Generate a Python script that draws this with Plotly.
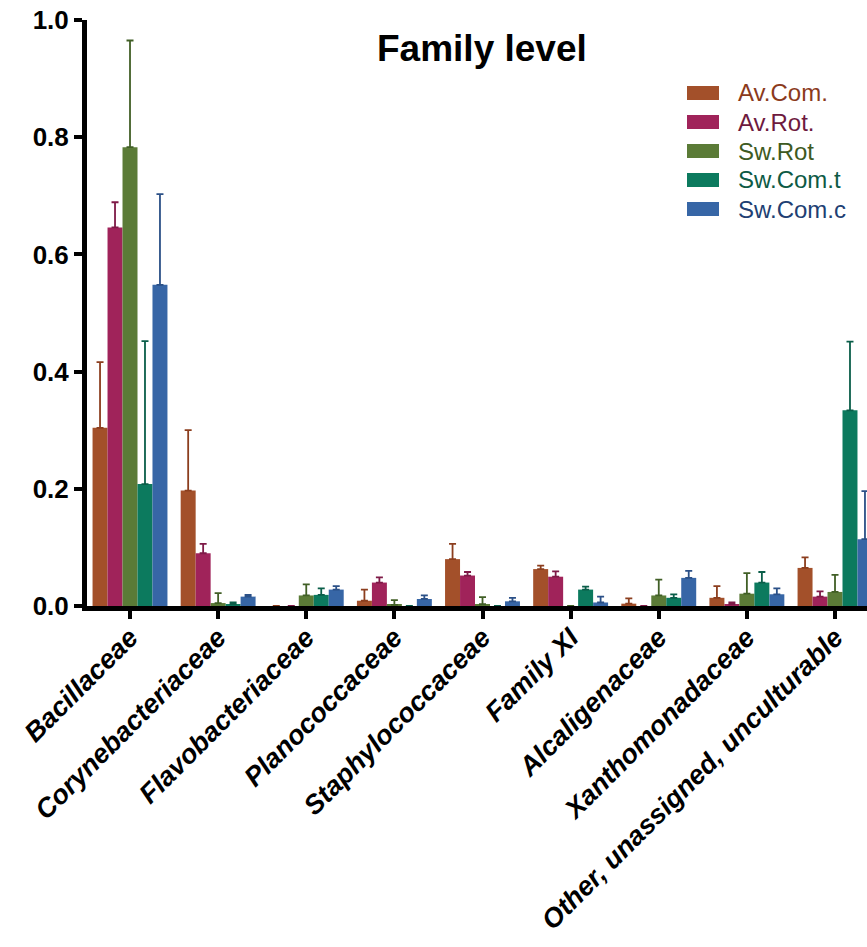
import plotly.graph_objects as go

families = ["Bacillaceae", "Corynebacteriaceae", "Flavobacteriaceae", "Planococcaceae",
            "Staphylococcaceae", "Family XI", "Alcaligenaceae", "Xanthomonadaceae",
            "Other, unassigned, unculturable"]

av_com = [0.304, 0.197, 0.0, 0.009, 0.080, 0.063, 0.004, 0.014, 0.065]
av_com_sd = [0.112, 0.103, 0.0, 0.019, 0.026, 0.006, 0.009, 0.020, 0.018]

av_rot = [0.646, 0.090, 0.0, 0.040, 0.052, 0.050, 0.0, 0.003, 0.016]
av_rot_sd = [0.043, 0.016, 0.0, 0.009, 0.006, 0.009, 0.0, 0.003, 0.009]

sw_rot = [0.783, 0.005, 0.018, 0.002, 0.003, 0.0, 0.018, 0.021, 0.024]
sw_rot_sd = [0.182, 0.017, 0.019, 0.008, 0.012, 0.0, 0.027, 0.035, 0.029]

sw_com_t = [0.208, 0.003, 0.019, 0.0, 0.0, 0.028, 0.014, 0.040, 0.334]
sw_com_t_sd = [0.244, 0.003, 0.011, 0.0, 0.0, 0.005, 0.006, 0.018, 0.117]

sw_com_c = [0.548, 0.016, 0.028, 0.012, 0.008, 0.006, 0.048, 0.020, 0.114]
sw_com_c_sd = [0.155, 0.003, 0.006, 0.006, 0.006, 0.010, 0.012, 0.010, 0.082]

series_names = ["Av.Com.", "Av.Rot.", "Sw.Rot", "Sw.Com.t", "Sw.Com.c"]
series_means = [av_com, av_rot, sw_rot, sw_com_t, sw_com_c]
series_sds = [av_com_sd, av_rot_sd, sw_rot_sd, sw_com_t_sd, sw_com_c_sd]

bar_colors = ["#A3502A", "#A0235A", "#5B7B37", "#0C7A5E", "#3766A6"]
err_colors = ["#8C3E1E", "#7E1A47", "#415F26", "#0A5E49", "#2B5087"]
label_colors = ["#8B3A1C", "#6E1A3E", "#3E5A22", "#0D5A45", "#213F73"]

FONT = "Liberation Sans, Arial, sans-serif"

fig = go.Figure()
for name, means, sds, bc, ec in zip(series_names, series_means, series_sds, bar_colors, err_colors):
    fig.add_trace(go.Bar(
        x=families, y=means, name=name,
        marker=dict(color=bc, line=dict(width=0)),
        error_y=dict(type="data", array=sds, arrayminus=[0] * len(sds), symmetric=False,
                     color=ec, thickness=1.8, width=3.5),
        showlegend=False,
    ))

# legend drawn as wide swatches with coloured labels
plot_left, plot_w = 87, 780
plot_bottom, plot_h = 606, 586
def px_x(p):
    return (p - plot_left) / plot_w
def px_y(p):
    return (plot_bottom - p) / plot_h

row_y = [93, 122, 151, 180, 209]
for name, bc, lc, yy in zip(series_names, bar_colors, label_colors, row_y):
    fig.add_shape(type="rect", xref="paper", yref="paper",
                  x0=px_x(687), x1=px_x(719), y0=px_y(yy + 7), y1=px_y(yy - 7),
                  fillcolor=bc, line=dict(width=0))
    fig.add_annotation(xref="paper", yref="paper", x=px_x(736), y=px_y(yy),
                       xanchor="left", yanchor="middle", showarrow=False,
                       text=name, font=dict(family=FONT, size=24, color=lc))

fig.add_annotation(xref="paper", yref="paper", x=px_x(482), y=px_y(48),
                   xanchor="center", yanchor="middle", showarrow=False,
                   text="<b>Family level</b>", font=dict(family=FONT, size=37, color="#000000"))

fig.update_layout(
    width=867, height=947,
    margin=dict(l=87, r=0, t=20, b=341, pad=0),
    paper_bgcolor="white", plot_bgcolor="white",
    barmode="group", bargap=0.15, bargroupgap=0.0,
    font=dict(family=FONT, color="#000000"),
)
fig.update_xaxes(
    range=[-0.488, 8.363], showgrid=False, zeroline=False, automargin=False,
    showline=True, linecolor="#000000", linewidth=5,
    ticks="outside", ticklen=8, tickwidth=4, tickcolor="#000000",
    tickangle=-45, ticklabelstandoff=-8,
    tickfont=dict(family=FONT, size=27, color="#000000", weight="bold", style="italic"),
)
fig.update_yaxes(
    range=[0, 1.0], showgrid=False, zeroline=False, automargin=False,
    showline=True, linecolor="#000000", linewidth=5,
    ticks="outside", ticklen=8, tickwidth=4, tickcolor="#000000",
    tickvals=[0, 0.2, 0.4, 0.6, 0.8, 1.0], tickformat=".1f",
    tickfont=dict(family=FONT, size=26, color="#000000", weight="bold"),
)

fig.write_html("out.html")
